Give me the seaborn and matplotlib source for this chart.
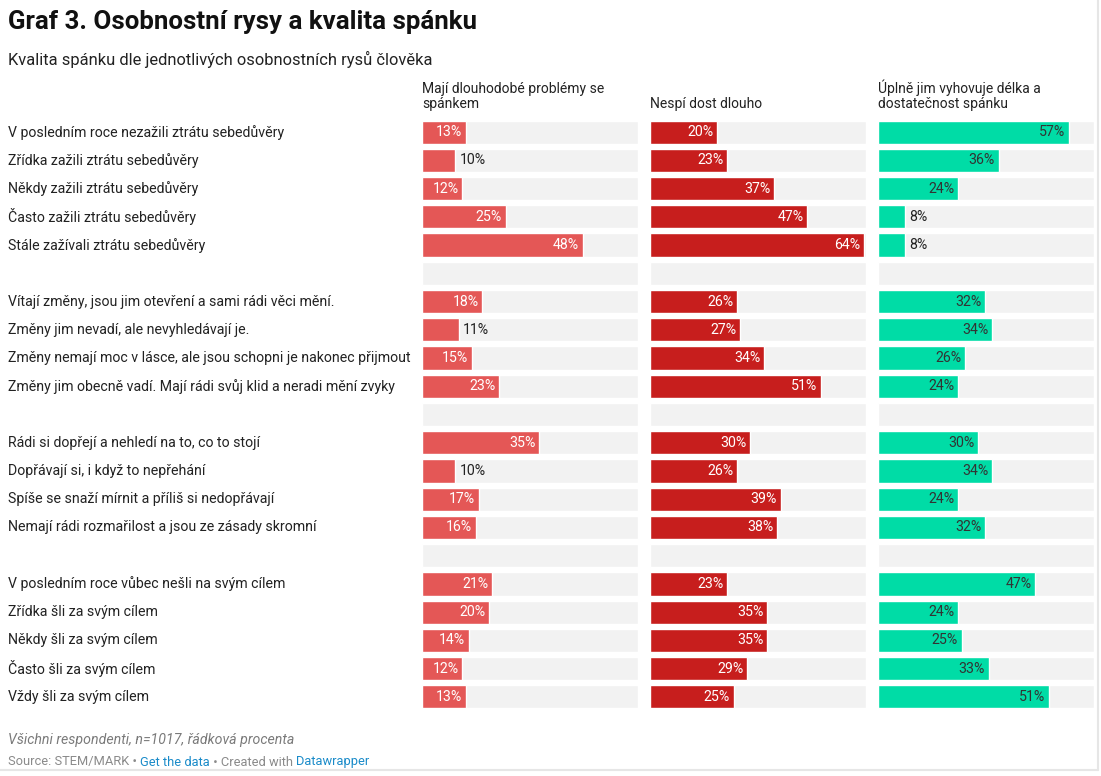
import numpy as np
import pandas as pd
import matplotlib
matplotlib.use("Agg")
import matplotlib.pyplot as plt
import seaborn as sns
from matplotlib.transforms import blended_transform_factory

sns.set_style("white")
plt.rcParams["font.family"] = ["Roboto", "DejaVu Sans"]

# row labels, "" = gap row between groups
rows = [
    "V posledním roce nezažili ztrátu sebedůvěry",
    "Zřídka zažili ztrátu sebedůvěry",
    "Někdy zažili ztrátu sebedůvěry",
    "Často zažili ztrátu sebedůvěry",
    "Stále zažívali ztrátu sebedůvěry",
    "",
    "Vítají změny, jsou jim otevření a sami rádi věci mění.",
    "Změny jim nevadí, ale nevyhledávají je.",
    "Změny nemají moc v lásce, ale jsou schopni je nakonec přijmout",
    "Změny jim obecně vadí. Mají rádi svůj klid a neradi mění zvyky",
    "",
    "Rádi si dopřejí a nehledí na to, co to stojí",
    "Dopřávají si, i když to nepřehání",
    "Spíše se snaží mírnit a příliš si nedopřávají",
    "Nemají rádi rozmařilost a jsou ze zásady skromní",
    "",
    "V posledním roce vůbec nešli na svým cílem",
    "Zřídka šli za svým cílem",
    "Někdy šli za svým cílem",
    "Často šli za svým cílem",
    "Vždy šli za svým cílem",
]

problems = [13, 10, 12, 25, 48, None, 18, 11, 15, 23, None,
            35, 10, 17, 16, None, 21, 20, 14, 12, 13]
short_sleep = [20, 23, 37, 47, 64, None, 26, 27, 34, 51, None,
               30, 26, 39, 38, None, 23, 35, 35, 29, 25]
satisfied = [57, 36, 24, 8, 8, None, 32, 34, 26, 24, None,
             30, 34, 24, 32, None, 47, 24, 25, 33, 51]

headers = [
    "Mají dlouhodobé problémy se\nspánkem",
    "Nespí dost dlouho",
    "Úplně jim vyhovuje délka a\ndostatečnost spánku",
]
colors = ["#e45756", "#c71e1d", "#00dca6"]
inside_text = ["white", "white", "#333333"]

W, H = 1101, 776
fig = plt.figure(figsize=(W / 100, H / 100), dpi=100)

row_keys = [f"r{i}" for i in range(len(rows))]
xmax = 64.5
top_px, bot_px = 118, 711
panel_left = [422, 650, 878]
panel_w = 216

axes = []
for k, vals in enumerate([problems, short_sleep, satisfied]):
    ax = fig.add_axes([panel_left[k] / W, 1 - bot_px / H, panel_w / W,
                       (bot_px - top_px) / H])
    df = pd.DataFrame({"row": row_keys,
                       "val": [np.nan if v is None else v for v in vals],
                       "bg": [xmax] * len(rows)})
    sns.barplot(data=df, x="bg", y="row", order=row_keys, orient="h",
                color="#f2f2f2", width=0.82, ax=ax, saturation=1)
    sns.barplot(data=df, x="val", y="row", order=row_keys, orient="h",
                color=colors[k], width=0.82, ax=ax, saturation=1)
    ax.set_xlim(0, xmax)
    ax.set_ylim(len(rows) - 0.5, -0.5)
    ax.axis("off")
    for i, v in enumerate(vals):
        if v is None:
            continue
        if v >= 12:
            ax.text(v - 1.1, i, f"{v}%", ha="right", va="center",
                    fontsize=10.2, color=inside_text[k])
        else:
            ax.text(v + 1.2, i, f"{v}%", ha="left", va="center",
                    fontsize=10.2, color="#222222")
    ax.text(0, -0.75, headers[k], ha="left", va="bottom", fontsize=10,
            color="#222222", linespacing=1.05)
    axes.append(ax)

trans = blended_transform_factory(fig.transFigure, axes[0].transData)
for i, lab in enumerate(rows):
    if lab:
        fig.text(8 / W, i, lab, transform=trans, ha="left", va="center",
                 fontsize=10.2, color="#222222")

fig.text(8 / W, 1 - 22 / H, "Graf 3. Osobnostní rysy a kvalita spánku",
         ha="left", va="center", fontsize=18.6, fontweight="bold",
         color="#111111")
fig.text(8 / W, 1 - 59 / H, "Kvalita spánku dle jednotlivých osobnostních rysů člověka",
         ha="left", va="center", fontsize=11.9, color="#222222")
fig.text(8 / W, 1 - 740 / H, "Všichni respondenti, n=1017, řádková procenta",
         ha="left", va="center", fontsize=10.2, style="italic", color="#7a7a7a")

# source line with coloured link words
parts = [("Source: STEM/MARK • ", "#8a8a8a"), ("Get the data", "#1a8bc9"),
         (" • Created with ", "#8a8a8a"), ("Datawrapper", "#1a8bc9")]
fig.canvas.draw()
renderer = fig.canvas.get_renderer()
x = 8 / W
for txt, col in parts:
    t = fig.text(x, 1 - 762 / H, txt, ha="left", va="center", fontsize=9.3,
                 color=col)
    bb = t.get_window_extent(renderer=renderer)
    x += bb.width / W

# faint frame shadow on right and bottom edge
fig.add_artist(plt.Line2D([1098 / W, 1098 / W], [1 - 770 / H, 1], color="#e6e6e6",
                          lw=1.5, transform=fig.transFigure))
fig.add_artist(plt.Line2D([0, 1098 / W], [1 - 770 / H, 1 - 770 / H], color="#e6e6e6",
                          lw=1.5, transform=fig.transFigure))

fig.savefig("out.png", dpi=100, facecolor="white")
